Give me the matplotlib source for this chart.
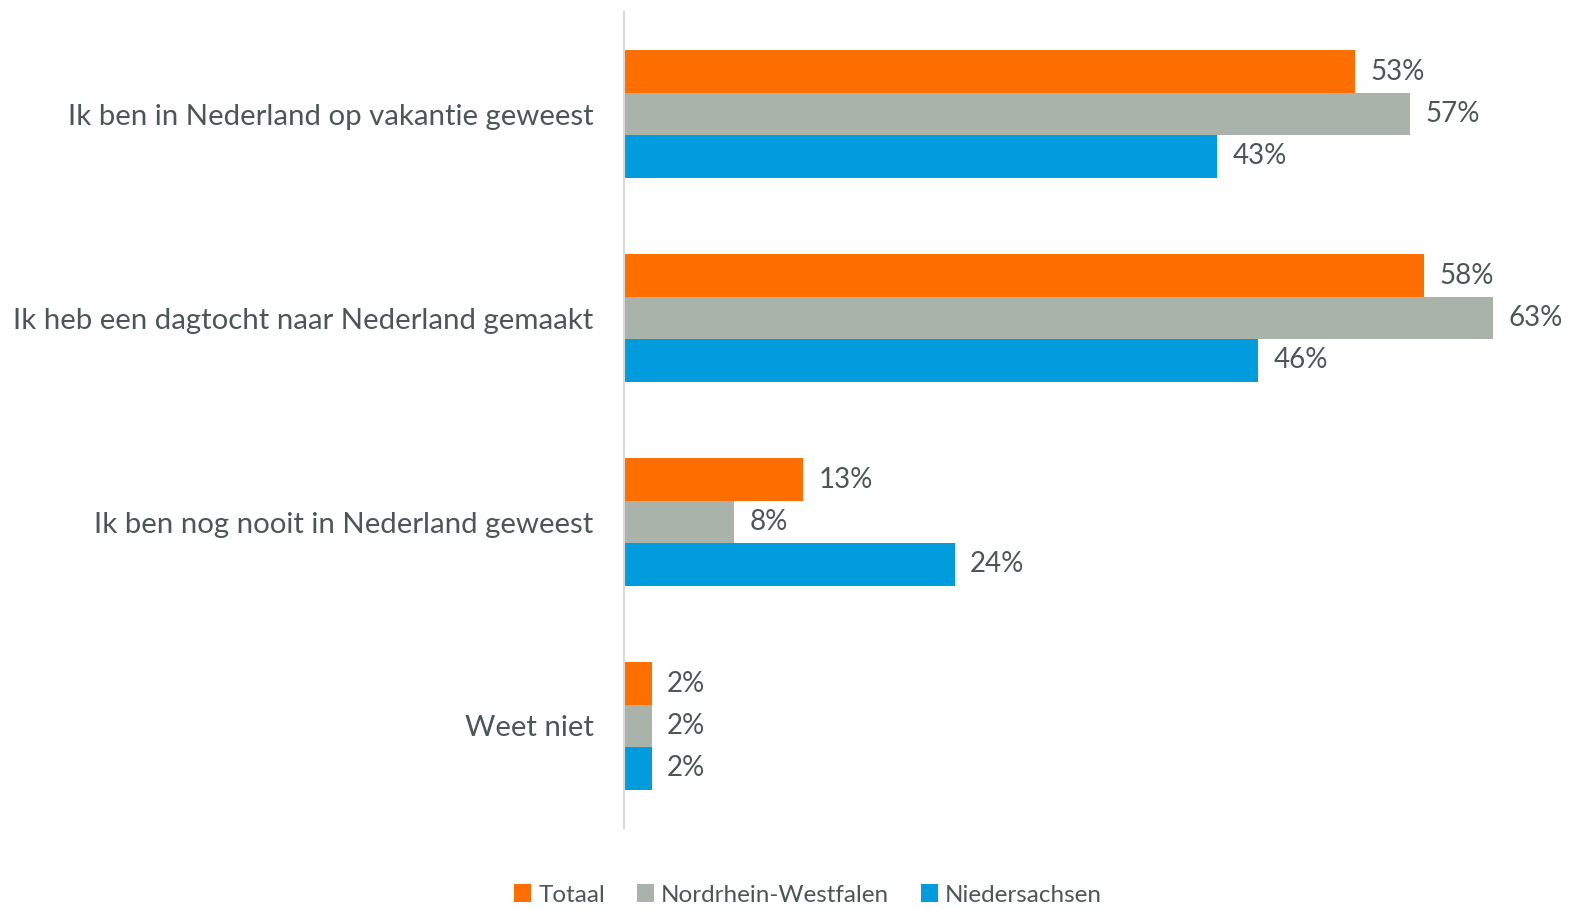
import matplotlib

matplotlib.use("Agg")
import matplotlib.pyplot as plt
import numpy as np

categories = [
    "Ik ben in Nederland op vakantie geweest",
    "Ik heb een dagtocht naar Nederland gemaakt",
    "Ik ben nog nooit in Nederland geweest",
    "Weet niet",
]
series_names = ["Totaal", "Nordrhein-Westfalen", "Niedersachsen"]
totaal = [53, 58, 13, 2]
nrw = [57, 63, 8, 2]
niedersachsen = [43, 46, 24, 2]

COLORS = ["#FF6F00", "#A9B3A9", "#009CDE"]
TEXT = "#4D5656"

plt.rcParams["font.family"] = ["Lato", "DejaVu Sans"]

W, H = 1577, 910
fig = plt.figure(figsize=(W / 100, H / 100), dpi=100)
ax = fig.add_axes([624 / W, 1 - 828 / H, (1530 - 624) / W, (828 - 12) / H])

y = np.arange(len(categories))
h = 0.208
for i, (vals, name, col) in enumerate(zip([totaal, nrw, niedersachsen], series_names, COLORS)):
    pos = y + (i - 1) * h
    ax.barh(pos, vals, h, color=col, label=name, edgecolor="none")
    for p, v in zip(pos, vals):
        ax.annotate(f"{v}%", (v, p), xytext=(11, 0), textcoords="offset points",
                    va="center", ha="left", fontsize=20, color=TEXT)

ax.set_xlim(0, (1530 - 624) / 13.79)
ax.set_ylim(3.5, -0.5)
ax.set_yticks(y)
ax.set_yticklabels(categories, fontsize=21.2, color=TEXT)
ax.tick_params(axis="y", length=0, pad=22)
ax.set_xticks([])
for s in ("top", "right", "bottom"):
    ax.spines[s].set_visible(False)
ax.spines["left"].set_color("#D9D9D9")
ax.spines["left"].set_linewidth(1.5)

leg = fig.legend(loc="center", bbox_to_anchor=(808 / W, 1 - 895 / H), ncol=3,
                 frameon=False, fontsize=17.5, handlelength=0.7, handleheight=0.7,
                 handletextpad=0.3, columnspacing=1.3)
for t in leg.get_texts():
    t.set_color(TEXT)

fig.savefig("out.png", dpi=100, facecolor="white")
